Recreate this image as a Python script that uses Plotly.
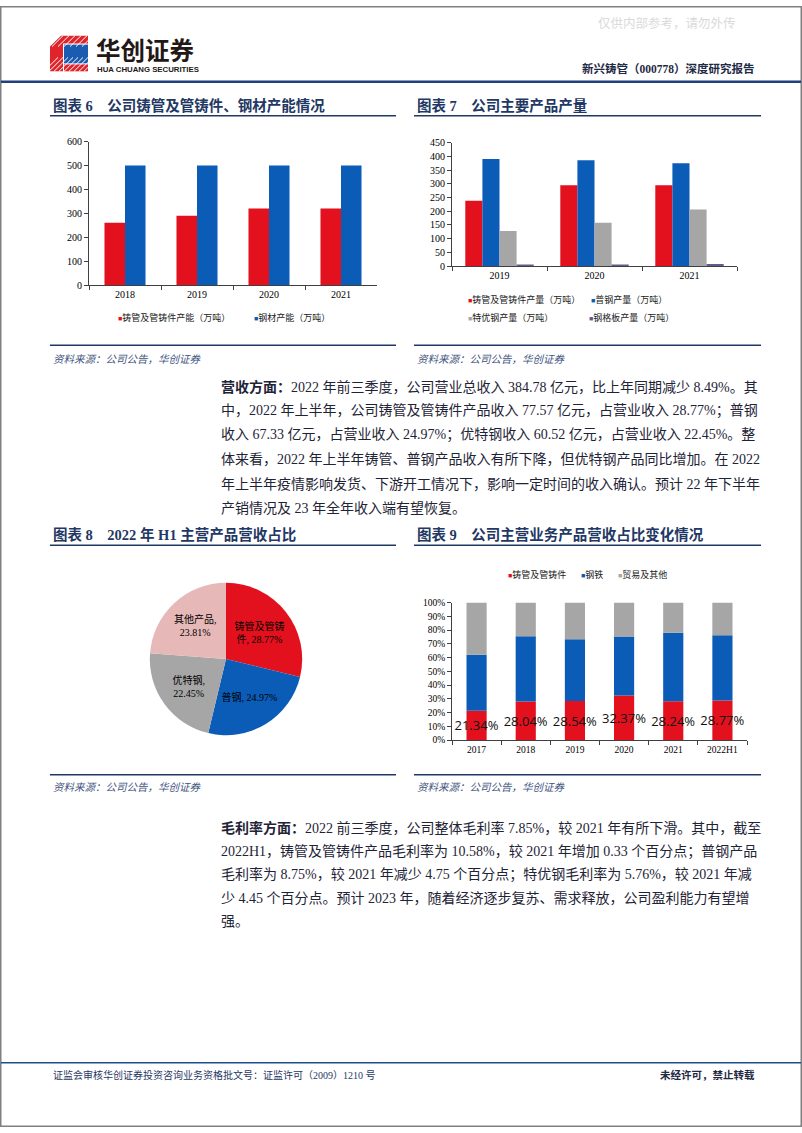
import plotly.graph_objects as go

W, H = 802, 1133


def fx(x):
    return x / W


def fy(y):
    return 1 - y / H


# ---------------- data ----------------
cap_years = ["2018", "2019", "2020", "2021"]
cap_pipe = [260, 290, 320, 320]
cap_steel = [500, 500, 500, 500]
cap_names = ["铸管及管铸件产能（万吨）", "钢材产能（万吨）"]

out_years = ["2019", "2020", "2021"]
out_pipe = [238, 295, 295]
out_common = [390, 386, 375]
out_special = [128, 158, 206]
out_grating = [5, 6, 8]
out_names = ["铸管及管铸件产量（万吨）", "普钢产量（万吨）", "特优钢产量（万吨）", "钢格板产量（万吨）"]

pie_names = ["铸管及管铸件", "普钢", "优特钢", "其他产品"]
pie_values = [28.77, 24.97, 22.45, 23.81]
pie_wrap = ["铸管及管铸<br>件, ", "普钢, ", "优特钢,<br>", "其他产品,<br>"]

mix_years = ["2017", "2018", "2019", "2020", "2021", "2022H1"]
mix_pipe = [21.34, 28.04, 28.54, 32.37, 28.24, 28.77]
mix_steel = [40.66, 47.46, 44.86, 42.93, 49.86, 47.42]
mix_other = [38.00, 24.50, 26.60, 24.70, 21.90, 23.81]
mix_names = ["铸管及管铸件", "钢铁", "贸易及其他"]

para1 = [
    "<b>营收方面：</b>2022 年前三季度，公司营业总收入 384.78 亿元，比上年同期减少 8.49%。其",
    "中，2022 年上半年，公司铸管及管铸件产品收入 77.57 亿元，占营业收入 28.77%；普钢",
    "收入 67.33 亿元，占营业收入 24.97%；优特钢收入 60.52 亿元，占营业收入 22.45%。整",
    "体来看，2022 年上半年铸管、普钢产品收入有所下降，但优特钢产品同比增加。在 2022",
    "年上半年疫情影响发货、下游开工情况下，影响一定时间的收入确认。预计 22 年下半年",
    "产销情况及 23 年全年收入端有望恢复。",
]
para2 = [
    "<b>毛利率方面：</b>2022 前三季度，公司整体毛利率 7.85%，较 2021 年有所下滑。其中，截至",
    "2022H1，铸管及管铸件产品毛利率为 10.58%，较 2021 年增加 0.33 个百分点；普钢产品",
    "毛利率为 8.75%，较 2021 年减少 4.75 个百分点；特优钢毛利率为 5.76%，较 2021 年减",
    "少 4.45 个百分点。预计 2023 年，随着经济逐步复苏、需求释放，公司盈利能力有望增",
    "强。",
]

# ---------------- styles ----------------
RED = "#e2111d"
BLUE = "#0b5cb7"
GRAY = "#a6a6a6"
PURPLE = "#675a8a"
PINK = "#e6b9b8"
NAVY = "#1f3864"
TEXT = "#1e2436"
SRC = "#3f5580"
AX = "#404040"
SERIF = "Liberation Serif, Noto Sans CJK SC"
CJK = "Noto Sans CJK SC"
SANS = "Open Sans, Noto Sans CJK SC"

fig = go.Figure()

# chart 6 : grouped bars
for vals, name, color, off in zip([cap_pipe, cap_steel], cap_names, [RED, BLUE], [-0.285, 0.0]):
    fig.add_trace(go.Bar(x=cap_years, y=vals, name=name, width=0.285, offset=off,
                         marker=dict(color=color, line=dict(width=0)),
                         xaxis="x", yaxis="y", showlegend=False))

# chart 7 : grouped bars
out_series = [out_pipe, out_common, out_special, out_grating]
out_colors = [RED, BLUE, GRAY, PURPLE]
for i, (vals, name, color) in enumerate(zip(out_series, out_names, out_colors)):
    fig.add_trace(go.Bar(x=out_years, y=vals, name=name, width=0.18, offset=-0.36 + 0.18 * i,
                         marker=dict(color=color, line=dict(width=0)),
                         xaxis="x2", yaxis="y2", showlegend=False))

# chart 8 : pie
pie_colors = [RED, BLUE, GRAY, PINK]
pie_text = [f"{w}{v:.2f}%" for w, v in zip(pie_wrap, pie_values)]
fig.add_trace(go.Pie(values=pie_values, labels=pie_names, text=pie_text, textinfo="text",
                     textposition="inside", insidetextorientation="horizontal",
                     sort=False, direction="clockwise", rotation=0,
                     marker=dict(colors=pie_colors, line=dict(width=0)),
                     textfont=dict(family=SERIF, size=10, color="#000"),
                     domain=dict(x=[fx(149), fx(303)], y=[fy(737), fy(583)]),
                     showlegend=False, hoverinfo="skip"))

# chart 9 : stacked bars (base computed from the series)
mix_series = [mix_pipe, mix_steel, mix_other]
mix_colors = [RED, BLUE, GRAY]
base = [0.0] * len(mix_years)
for i, (vals, name, color) in enumerate(zip(mix_series, mix_names, mix_colors)):
    kw = {}
    if i == 0:
        kw = dict(text=[f"{v:.2f}%" for v in vals], textposition="inside",
                  insidetextanchor="middle", textangle=0, constraintext="none",
                  textfont=dict(family=SANS, size=13, color="#111"))
    fig.add_trace(go.Bar(x=mix_years, y=vals, base=list(base), name=name, width=0.41, offset=-0.205,
                         marker=dict(color=color, line=dict(width=0)),
                         xaxis="x3", yaxis="y3", showlegend=False, cliponaxis=False, **kw))
    base = [b + v for b, v in zip(base, vals)]


def cat_axis(domain, anchor, n, size=10):
    return dict(domain=domain, anchor=anchor, type="category", range=[-0.5, n - 0.5],
                showline=True, linecolor=AX, linewidth=1, ticks="outside", tickson="boundaries",
                ticklen=4, tickcolor=AX, tickwidth=1,
                tickfont=dict(family=SERIF, size=size, color="#000"),
                showgrid=False, zeroline=False, fixedrange=True)


def val_axis(domain, anchor, rng, dtick, size=10, suffix=""):
    return dict(domain=domain, anchor=anchor, range=rng, dtick=dtick, ticksuffix=suffix,
                showline=True, linecolor=AX, linewidth=1, ticks="outside", ticklen=4,
                tickcolor=AX, tickwidth=1, tickfont=dict(family=SERIF, size=size, color="#000"),
                showgrid=False, zeroline=False, fixedrange=True)


fig.update_layout(
    width=W, height=H, margin=dict(l=0, r=0, t=0, b=0),
    paper_bgcolor="white", plot_bgcolor="rgba(0,0,0,0)",
    barmode="overlay", showlegend=False,
    xaxis=cat_axis([fx(89), fx(377)], "y", len(cap_years)),
    yaxis=val_axis([fy(282), fy(137)], "x", [0, 600], 100),
    xaxis2=cat_axis([fx(452), fx(737)], "y2", len(out_years)),
    yaxis2=val_axis([fy(263), fy(138)], "x2", [0, 450], 50),
    xaxis3=cat_axis([fx(452), fx(747)], "y3", len(mix_years), size=9.5),
    yaxis3=val_axis([fy(742), fy(603)], "x3", [0, 100], 10, size=9.5, suffix="%"),
)

ann = []


def txt(x, y, s, size, color=TEXT, family=SERIF, xanchor="left"):
    ann.append(dict(x=fx(x), y=fy(y), xref="paper", yref="paper", text=s, showarrow=False,
                    xanchor=xanchor, yanchor="middle", align="left",
                    font=dict(size=size, color=color, family=family)))


# header
txt(667, 17, "仅供内部参考，请勿外传", 12.5, "#dadada", CJK, "center")
txt(94, 43.5, "<b>华创证券</b>", 24.5, "#231815", CJK)
txt(95, 64.5, "<b>HUA CHUANG SECURITIES</b>", 7.8, "#231815", "Liberation Sans")
txt(757, 63, "<b>新兴铸管（000778）深度研究报告</b>", 11.5, "#1f2a44", SERIF, "right")

# chart titles
NB = "\u00a0"
GAP = NB * 4
txt(51, 101, f"<b>图表 6{GAP}公司铸管及管铸件、钢材产能情况</b>", 14.5, NAVY)
txt(415, 101, f"<b>图表 7{GAP}公司主要产品产量</b>", 14.5, NAVY)
txt(51, 534, f"<b>图表 8{GAP}2022 年 H1 主营产品营收占比</b>", 14.5, NAVY)
txt(415, 534, f"<b>图表 9{GAP}公司主营业务产品营收占比变化情况</b>", 14.5, NAVY)

# sources
for sx, sy in [(51, 356), (415, 356), (51, 789), (415, 789)]:
    txt(sx, sy, "<i>资料来源：公司公告，华创证券</i>", 10.5, SRC, CJK)


# legends
def legend_item(x, y, name, color, size=9):
    txt(x, y, f"<span style='color:{color};font-size:7px'>■</span>{name}", size, "#222", SERIF)


legend6_pos = [(116, 315), (252, 315)]
for (lx, ly), name, color in zip(legend6_pos, cap_names, [RED, BLUE]):
    legend_item(lx, ly, name, color)
legend7_pos = [(466, 297), (589, 297), (466, 315), (587, 315)]
for (lx, ly), name, color in zip(legend7_pos, out_names, out_colors):
    legend_item(lx, ly, name, color)
legend9_pos = [(506, 575), (579, 575), (616, 575)]
for (lx, ly), name, color in zip(legend9_pos, mix_names, mix_colors):
    legend_item(lx, ly, name, color)

# body text
for i, line in enumerate(para1):
    txt(219, 385 + 24.5 * i, line, 14, TEXT)
for i, line in enumerate(para2):
    txt(219, 831 + 23.5 * i, line, 14, TEXT)

# footer
txt(51, 1080, "证监会审核华创证券投资咨询业务资格批文号：证监许可（2009）1210 号", 10, NAVY, SERIF)
txt(757, 1080, "<b>未经许可，禁止转载</b>", 10.5, "#1f2a44", SERIF, "right")

fig.update_layout(annotations=ann)

# decorative shapes
shapes = []


def hline(x0, x1, y, color, width):
    shapes.append(dict(type="line", xref="paper", yref="paper", x0=fx(x0), x1=fx(x1),
                       y0=fy(y), y1=fy(y), line=dict(color=color, width=width)))


def poly(points, color):
    d = "M " + " L ".join(f"{fx(a):.5f},{fy(b):.5f}" for a, b in points) + " Z"
    shapes.append(dict(type="path", xref="paper", yref="paper", path=d,
                       fillcolor=color, line=dict(width=0)))


# page border
shapes.append(dict(type="rect", xref="paper", yref="paper", x0=fx(0.75), x1=fx(801.25),
                   y0=fy(1132.25), y1=fy(0.75), line=dict(color="#808080", width=1.5)))
# logo
poly([(50, 41), (61, 30), (88, 30), (88, 38), (63, 38), (63, 66), (50, 66)], "#e0242c")
poly([(64, 39), (88, 39), (88, 58), (64, 58)], "#1b5bb0")
poly([(64, 59), (88, 59), (88, 66), (64, 66)], "#e0242c")
for k in range(9):
    x0 = 44 + k * 5
    shapes.append(dict(type="line", xref="paper", yref="paper", x0=fx(x0), y0=fy(66),
                       x1=fx(x0 + 14), y1=fy(52), line=dict(color="white", width=1)))
for k in range(6):
    x0 = 52 + k * 6
    shapes.append(dict(type="line", xref="paper", yref="paper", x0=fx(x0), y0=fy(41),
                       x1=fx(x0 + 11), y1=fy(30), line=dict(color="white", width=1)))
# header rule
hline(1, 801, 76.5, "#1f3f7f", 2.5)
# chart title / source rules
for a, b in [(50, 396), (414, 761)]:
    hline(a, b, 111, NAVY, 1.5)
    hline(a, b, 343, NAVY, 1.5)
    hline(a, b, 545, NAVY, 1.5)
    hline(a, b, 777, NAVY, 1.5)
# footer rule
hline(1, 801, 1068, "#1f4e8c", 1.5)

fig.update_layout(shapes=shapes)

fig.write_html("out.html")
